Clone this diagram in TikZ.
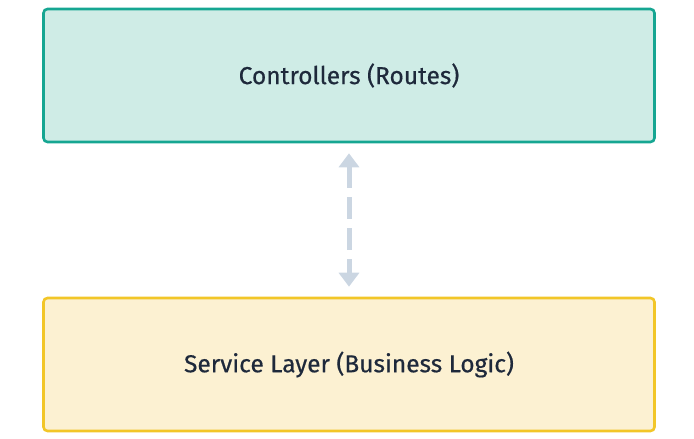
\documentclass[tikz,border=0pt]{standalone}
\usepackage{fontspec}
\setmainfont{Fira Sans}
\newfontfamily\labelfont{Fira Sans}[FakeBold=0.5]
\usetikzlibrary{arrows.meta}
\definecolor{tealborder}{RGB}{22,166,146}
\definecolor{tealfill}{RGB}{207,236,230}
\definecolor{yellowborder}{RGB}{242,198,40}
\definecolor{yellowfill}{RGB}{252,241,210}
\definecolor{arrowgray}{RGB}{203,214,226}
\definecolor{textdark}{RGB}{30,41,59}
\tikzset{
  layerbox/.style={draw, line width=2.6pt, rounded corners=4pt, minimum width=611pt, minimum height=133pt, inner sep=0pt, font=\labelfont\fontsize{24.5}{29}\selectfont\addfontfeatures{FakeBold=0.5}, text=textdark},
  linkarrow/.style={arrowgray, line width=5pt, dash pattern=on 22pt off 9pt, {Triangle[width=20pt,length=14pt]}-{Triangle[width=20pt,length=14pt]}}
}
\begin{document}
\begin{tikzpicture}[x=1pt,y=-1pt]
\useasboundingbox (0,0) rectangle (694,439);
\node[layerbox, draw=tealborder, fill=tealfill] (ctrl) at (349,75.5) {Controllers (Routes)};
\node[layerbox, draw=yellowborder, fill=yellowfill] (svc) at (349,364.5) {Service Layer (Business Logic)};
\draw[linkarrow] ([yshift=-10pt]ctrl.south) -- ([yshift=10pt]svc.south |- svc.north);
\end{tikzpicture}
\end{document}
